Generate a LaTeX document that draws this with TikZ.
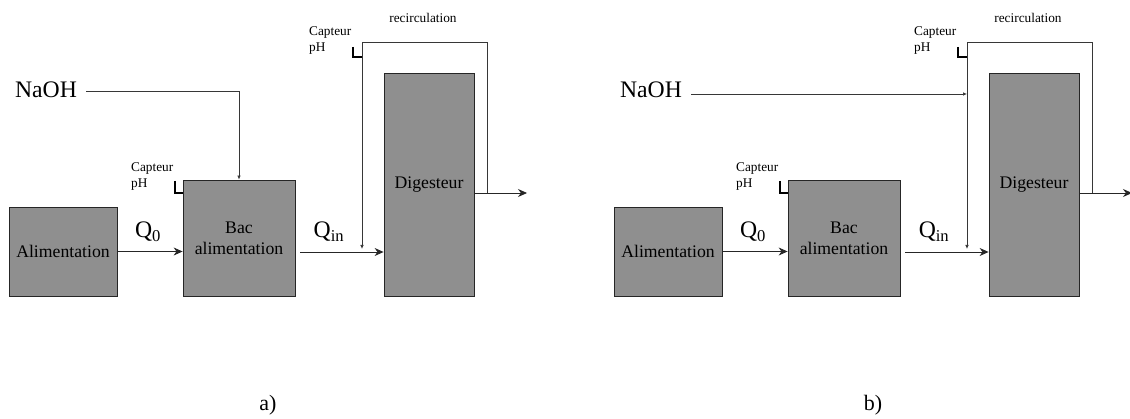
\documentclass[tikz,border=0pt]{standalone}
\usepackage{fontspec}
\setmainfont{Liberation Serif}
\usepackage{tikz}
\usetikzlibrary{arrows.meta}
\usetikzlibrary{calc}

\definecolor{gris}{RGB}{143,143,143}
\definecolor{trait}{RGB}{55,55,55}

\tikzset{
  bloc/.style={draw=black!85, fill=gris, line width=0.8pt, inner sep=0pt, align=center, font=\fontsize{17.7}{21}\selectfont},
  flux/.style={draw=black!85, line width=0.8pt, -{Stealth[length=9pt,width=8pt]}},
  conduite/.style={draw=trait, line width=0.7pt, -{Latex[length=4pt,width=3.5pt]}},
  sonde/.style={draw=black, line width=1.5pt},
  petit/.style={font=\fontsize{13.3}{16}\selectfont, align=left, inner sep=0pt},
  grand/.style={font=\fontsize{23.7}{28}\selectfont, inner sep=0pt},
}

\begin{document}
\begin{tikzpicture}[x=1pt,y=-1pt]
\useasboundingbox (0,0) rectangle (1130,419);

% a) : soude dans le bac
\node[bloc, minimum width=108pt, minimum height=89pt] (a-alim) at (63,251.5) {Alimentation};
\node[bloc, minimum width=112pt, minimum height=116pt] (a-bac) at (239,238) {Bac\\alimentation};
\node[bloc, minimum width=90pt, minimum height=223pt] (a-dig) at (429,184.5) {Digesteur};
\draw[flux] (a-alim.east) -- (a-alim.east -| a-bac.west);
\node[grand] (a-q0) at (148,232) {Q\textsubscript{0}};
\coordinate (a-depart) at (300,252);
\draw[flux] (a-depart) -- (a-depart -| a-dig.west);
\node[grand] (a-qin) at (329,232) {Q\textsubscript{in}};
\coordinate (a-sortie) at (474,193);
\coordinate (a-haut) at (487,42);
\coordinate (a-ret) at (362,249);
\coordinate (a-out) at (527,193);
\draw[conduite] (a-sortie) -| (a-haut) -| (a-ret);
\draw[flux] (a-sortie) -- (a-out);
\node[petit] (a-recirc) at (423,18) {recirculation};
\node[petit, anchor=west] (a-capt1) at (309,41) {Capteur\\pH};
\draw[sonde] (353,47) |- (362,57);
\node[petit, anchor=west] (a-capt2) at (131,177) {Capteur\\pH};
\draw[sonde] (175,181) |- (183,193);
\node[grand] (a-naoh) at (46,90) {NaOH};
\coordinate (a-naoh-d) at (86,91);
\draw[conduite] (a-naoh-d) -| (a-bac.north);
\node[font=\fontsize{22}{26}\selectfont] (a-lab) at (268,405) {a)};

% b) : soude dans la recirculation
\begin{scope}[xshift=605pt]
\node[bloc, minimum width=108pt, minimum height=89pt] (b-alim) at (63,251.5) {Alimentation};
\node[bloc, minimum width=112pt, minimum height=116pt] (b-bac) at (239,238) {Bac\\alimentation};
\node[bloc, minimum width=90pt, minimum height=223pt] (b-dig) at (429,184.5) {Digesteur};
\draw[flux] (b-alim.east) -- (b-alim.east -| b-bac.west);
\node[grand] (b-q0) at (148,232) {Q\textsubscript{0}};
\coordinate (b-depart) at (300,252);
\draw[flux] (b-depart) -- (b-depart -| b-dig.west);
\node[grand] (b-qin) at (329,232) {Q\textsubscript{in}};
\coordinate (b-sortie) at (474,193);
\coordinate (b-haut) at (487,42);
\coordinate (b-ret) at (362,249);
\coordinate (b-out) at (527,193);
\draw[conduite] (b-sortie) -| (b-haut) -| (b-ret);
\draw[flux] (b-sortie) -- (b-out);
\node[petit] (b-recirc) at (423,18) {recirculation};
\node[petit, anchor=west] (b-capt1) at (309,41) {Capteur\\pH};
\draw[sonde] (353,47) |- (362,57);
\node[petit, anchor=west] (b-capt2) at (131,177) {Capteur\\pH};
\draw[sonde] (175,181) |- (183,193);
\node[grand] (b-naoh) at (46,90) {NaOH};
\coordinate (b-naoh-d) at (86,94);
\coordinate (b-inj) at (362,94);
\draw[conduite] (b-naoh-d) -- (b-inj);
\node[font=\fontsize{22}{26}\selectfont] (b-lab) at (268,405) {b)};
\end{scope}
\end{tikzpicture}
\end{document}
